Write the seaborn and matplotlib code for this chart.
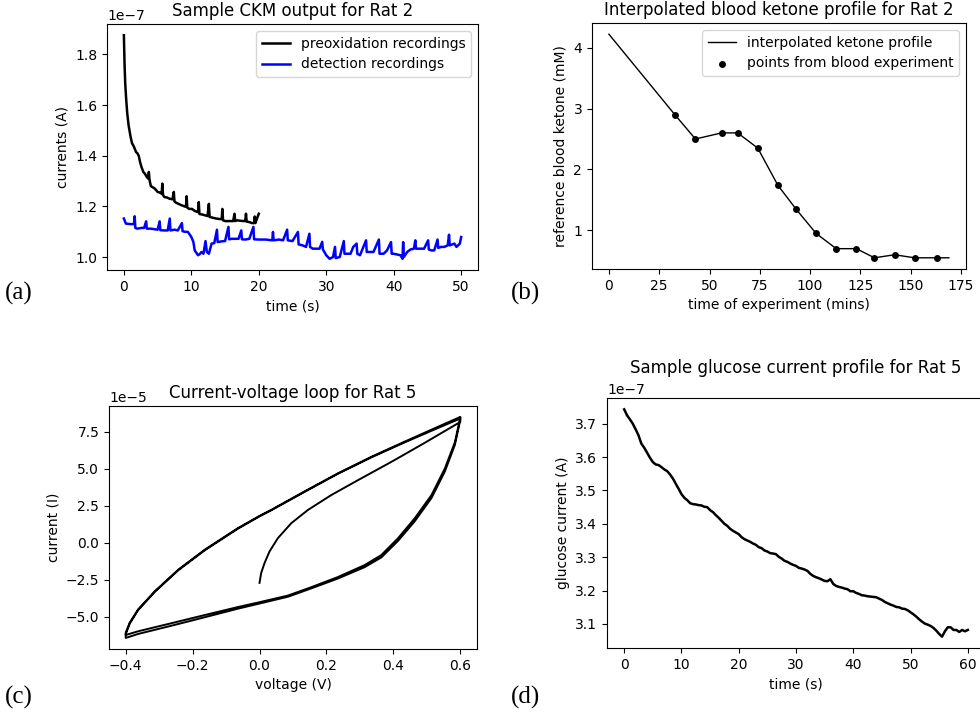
import numpy as np
import seaborn as sns
import matplotlib
matplotlib.use("Agg")
import matplotlib.pyplot as plt

# (a) CKM output, currents in units of 1e-7 A
pre_time = [0, 0.1, 0.2, 0.35, 0.5, 0.7, 1.0, 1.2, 1.5, 1.8, 2.0, 2.2, 2.4, 2.6, 2.9, 3.1, 3.4, 3.6, 3.7, 3.8,
            4.0, 4.3, 4.6, 5.0, 5.3, 5.6, 5.7, 5.8, 6.0, 6.4, 6.8, 7.2, 7.4, 7.5, 7.7, 8.1, 8.5, 9.0, 9.2, 9.3,
            9.4, 9.7, 10.1, 10.5, 10.9, 11.0, 11.1, 11.2, 11.6, 12.0, 12.4, 12.6, 12.7, 12.8, 13.2, 13.7, 14.2,
            14.5, 14.6, 14.7, 15.0, 15.4, 15.9, 16.2, 16.4, 16.5, 16.8, 17.3, 17.8, 18.0, 18.1, 18.2, 18.6, 19.0,
            19.3, 19.4, 19.5, 19.7, 20.0]
pre_current = [1.876, 1.76, 1.685, 1.62, 1.567, 1.52, 1.474, 1.45, 1.435, 1.415, 1.41, 1.40, 1.375, 1.356, 1.335,
               1.33, 1.316, 1.31, 1.336, 1.305, 1.28, 1.275, 1.27, 1.257, 1.255, 1.25, 1.29, 1.245, 1.237, 1.235,
               1.23, 1.228, 1.257, 1.22, 1.215, 1.21, 1.205, 1.2, 1.198, 1.24, 1.195, 1.19, 1.19, 1.182, 1.178,
               1.178, 1.217, 1.17, 1.168, 1.165, 1.162, 1.21, 1.158, 1.158, 1.155, 1.152, 1.15, 1.15, 1.19, 1.145,
               1.142, 1.142, 1.142, 1.142, 1.171, 1.142, 1.145, 1.143, 1.142, 1.142, 1.171, 1.14, 1.138, 1.134,
               1.134, 1.16, 1.134, 1.15, 1.171]

det_time = [0.0, 0.3, 1.0, 1.5, 1.6, 1.7, 2.0, 2.6, 3.0, 3.3, 3.4, 4.0, 4.5, 5.0, 5.3, 5.4, 6.0, 6.5, 6.8, 6.9,
            7.5, 8.0, 8.6, 8.7, 9.0, 9.5, 10.0, 10.3, 10.5, 11.0, 11.3, 11.5, 11.8, 12.1, 12.3, 12.6, 13.0, 13.4,
            13.8, 13.9, 14.5, 15.0, 15.5, 15.6, 16.0, 16.5, 17.0, 17.4, 17.5, 18.0, 18.6, 19.2, 19.3, 20.0, 21.0,
            22.0, 22.1, 22.2, 23.0, 23.6, 24.2, 24.3, 25.0, 25.8, 25.9, 26.5, 27.0, 27.5, 27.6, 28.0, 28.6, 29.0,
            29.4, 29.5, 30.0, 30.5, 31.0, 31.3, 31.4, 32.0, 32.6, 32.7, 33.0, 33.6, 34.0, 34.5, 34.6, 35.0, 35.9,
            36.0, 36.5, 37.0, 37.8, 37.9, 38.5, 39.0, 39.6, 39.7, 40.0, 40.5, 41.0, 41.3, 41.4, 41.5, 42.0, 42.5,
            43.0, 43.2, 43.3, 44.0, 44.5, 45.1, 45.2, 45.6, 46.0, 46.5, 46.6, 47.0, 47.5, 48.0, 48.2, 48.3, 49.0,
            49.3, 49.8, 50.0]
det_current = [1.152, 1.132, 1.130, 1.130, 1.161, 1.115, 1.112, 1.115, 1.115, 1.141, 1.112, 1.112, 1.110, 1.108,
               1.141, 1.106, 1.105, 1.105, 1.152, 1.105, 1.108, 1.105, 1.134, 1.102, 1.100, 1.099, 1.079, 1.060,
               1.026, 1.007, 1.013, 1.020, 1.013, 1.063, 1.020, 1.013, 1.053, 1.055, 1.108, 1.059, 1.062, 1.063,
               1.119, 1.070, 1.072, 1.072, 1.072, 1.105, 1.070, 1.069, 1.072, 1.119, 1.070, 1.069, 1.069, 1.066,
               1.099, 1.066, 1.069, 1.066, 1.108, 1.066, 1.063, 1.099, 1.050, 1.046, 1.040, 1.092, 1.040, 1.033,
               1.033, 1.033, 1.060, 1.030, 1.007, 0.993, 1.000, 1.040, 0.996, 1.000, 1.063, 1.013, 1.013, 1.013,
               1.040, 1.053, 1.013, 1.007, 1.066, 1.020, 1.020, 1.020, 1.069, 1.013, 1.013, 1.026, 1.059, 1.013,
               1.013, 1.010, 1.007, 0.993, 1.059, 1.000, 1.020, 1.030, 1.033, 1.066, 1.033, 1.033, 1.033, 1.066,
               1.030, 1.026, 1.026, 1.069, 1.036, 1.040, 1.040, 1.046, 1.088, 1.046, 1.053, 1.040, 1.053, 1.079]

# (b) blood ketone
blood_time = [33, 43, 56, 64, 74, 84, 93, 103, 113, 123, 132, 142, 152, 163]
blood_ketone = [2.89, 2.50, 2.60, 2.60, 2.35, 1.74, 1.35, 0.95, 0.70, 0.70, 0.55, 0.60, 0.55, 0.55]
interp_time = [0] + blood_time + [169]
interp_ketone = [4.22] + blood_ketone + [0.55]

# (c) current-voltage loop, currents in units of 1e-5
cv_start_v = [0.0, 0.005, 0.015, 0.03, 0.055, 0.095, 0.145, 0.215, 0.295, 0.395, 0.494, 0.6]
cv_start_i = [-2.72, -2.05, -1.38, -0.59, 0.31, 1.32, 2.22, 3.23, 4.24, 5.48, 6.76, 8.17]
cv_down_v = [0.6, 0.533, 0.433, 0.334, 0.234, 0.134, 0.035, 0.0, -0.065, -0.164, -0.243, -0.313, -0.363,
             -0.388, -0.4]
cv_down_i = [8.51, 7.84, 6.83, 5.81, 4.69, 3.46, 2.22, 1.81, 0.98, -0.48, -1.83, -3.29, -4.52, -5.42, -6.1]
cv_down2_i = [8.40, 7.76, 6.78, 5.77, 4.66, 3.43, 2.19, 1.78, 0.94, -0.52, -1.87, -3.33, -4.57, -5.48, -6.2]
cv_up_v = [-0.4, -0.363, -0.263, -0.164, -0.065, 0.0, 0.085, 0.154, 0.234, 0.314, 0.364, 0.414, 0.464,
           0.514, 0.554, 0.584, 0.6]
cv_up_i = [-6.45, -6.18, -5.62, -5.05, -4.47, -4.12, -3.66, -3.10, -2.43, -1.66, -1.00, 0.12, 1.45, 3.02,
           4.82, 6.62, 8.30]
cv_up2_i = [-6.25, -6.0, -5.45, -4.90, -4.36, -4.03, -3.58, -3.02, -2.33, -1.52, -0.84, 0.30, 1.65, 3.22,
            5.02, 6.80, 8.45]

# (d) glucose current, units of 1e-7 A
glu_time = [0.0, 0.5, 1.0, 1.5, 2.0, 2.5, 3.0, 3.5, 4.0, 4.5, 5.0, 5.5, 6.0, 6.5, 7.0, 7.5, 8.0, 8.5, 9.0, 9.5,
            10.0, 10.5, 11.0, 11.5, 12.0, 12.5, 13.0, 13.5, 14.0, 14.5, 15.0, 15.5, 16.0, 16.5, 17.0, 17.5,
            18.0, 18.5, 19.0, 19.5, 20.0, 20.5, 21.0, 21.5, 22.0, 22.5, 23.0, 23.5, 24.0, 24.5, 25.0, 25.5,
            26.0, 26.5, 27.0, 27.5, 28.0, 28.5, 29.0, 29.5, 30.0, 30.5, 31.0, 31.5, 32.0, 32.5, 33.0, 33.5,
            34.0, 34.5, 35.0, 35.5, 36.0, 36.5, 37.0, 37.5, 38.0, 38.5, 39.0, 39.5, 40.0, 40.5, 41.0, 41.5,
            42.0, 42.5, 43.0, 43.5, 44.0, 44.5, 45.0, 45.5, 46.0, 46.5, 47.0, 47.5, 48.0, 48.5, 49.0, 49.5,
            50.0, 50.5, 51.0, 51.5, 52.0, 52.5, 53.0, 53.5, 54.0, 54.5, 55.0, 55.5, 56.0, 56.5, 57.0, 57.5,
            58.0, 58.5, 59.0, 59.5, 60.0]
glu_current = [3.743, 3.725, 3.713, 3.700, 3.683, 3.665, 3.640, 3.628, 3.613, 3.598, 3.585, 3.578, 3.576,
               3.570, 3.563, 3.558, 3.548, 3.536, 3.520, 3.505, 3.489, 3.478, 3.471, 3.462, 3.459, 3.458,
               3.456, 3.455, 3.451, 3.450, 3.441, 3.435, 3.426, 3.418, 3.409, 3.400, 3.394, 3.385, 3.379,
               3.374, 3.369, 3.360, 3.354, 3.350, 3.346, 3.341, 3.337, 3.330, 3.327, 3.320, 3.317, 3.312,
               3.311, 3.309, 3.301, 3.296, 3.289, 3.286, 3.281, 3.277, 3.274, 3.268, 3.266, 3.263, 3.259,
               3.250, 3.244, 3.240, 3.237, 3.233, 3.229, 3.228, 3.234, 3.220, 3.214, 3.211, 3.209, 3.206,
               3.204, 3.198, 3.198, 3.193, 3.190, 3.186, 3.185, 3.183, 3.182, 3.181, 3.180, 3.176, 3.172,
               3.166, 3.162, 3.158, 3.155, 3.151, 3.150, 3.146, 3.145, 3.141, 3.135, 3.129, 3.122, 3.114,
               3.107, 3.101, 3.098, 3.094, 3.088, 3.080, 3.070, 3.062, 3.078, 3.090, 3.090, 3.082, 3.082,
               3.076, 3.082, 3.078, 3.082]

fig = plt.figure(figsize=(9.8, 7.15), dpi=100)
ax_a = fig.add_axes([0.1092, 0.6224, 0.3786, 0.344])
ax_b = fig.add_axes([0.604, 0.6238, 0.3816, 0.344])
ax_c = fig.add_axes([0.1112, 0.0923, 0.3755, 0.340])
ax_d = fig.add_axes([0.6194, 0.0937, 0.3857, 0.3497])

# (a)
sns.lineplot(x=pre_time, y=np.array(pre_current) * 1e-7, color="black", lw=1.8, sort=False,
             estimator=None, label="preoxidation recordings", ax=ax_a)
sns.lineplot(x=det_time, y=np.array(det_current) * 1e-7, color="blue", lw=1.8, sort=False,
             estimator=None, label="detection recordings", ax=ax_a)
ax_a.set_title("Sample CKM output for Rat 2", fontsize=12)
ax_a.set_xlabel("time (s)")
ax_a.set_ylabel("currents (A)")
ax_a.legend(loc="upper right", fontsize=10)

# (b)
sns.lineplot(x=interp_time, y=interp_ketone, color="black", lw=1, sort=False, estimator=None,
             label="interpolated ketone profile", ax=ax_b)
sns.scatterplot(x=blood_time, y=blood_ketone, color="black", s=25, linewidth=0,
                label="points from blood experiment", ax=ax_b)
ax_b.set_title("Interpolated blood ketone profile for Rat 2", fontsize=12)
ax_b.set_xlabel("time of experiment (mins)")
ax_b.set_ylabel("reference blood ketone (mM)")
ax_b.set_xticks([0, 25, 50, 75, 100, 125, 150, 175])
ax_b.legend(loc="upper right", fontsize=10)

# (c)
loop_v = cv_start_v + cv_down_v + cv_up_v + cv_down_v + cv_up_v
loop_i = cv_start_i + cv_down_i + cv_up_i + cv_down2_i + cv_up2_i
sns.lineplot(x=loop_v, y=np.array(loop_i) * 1e-5, color="black", lw=1.4, sort=False,
             estimator=None, ax=ax_c)
ax_c.set_title("Current-voltage loop for Rat 5", fontsize=12)
ax_c.set_xlabel("voltage (V)")
ax_c.set_ylabel("current (I)")

# (d)
sns.lineplot(x=glu_time, y=np.array(glu_current) * 1e-7, color="black", lw=1.8, sort=False,
             estimator=None, ax=ax_d)
ax_d.set_title("Sample glucose current profile for Rat 5", fontsize=12, pad=18)
ax_d.set_xlabel("time (s)")
ax_d.set_ylabel("glucose current (A)")

for ax in (ax_a, ax_b, ax_c, ax_d):
    ax.tick_params(labelsize=10)

for txt, x, y in [("(a)", 0.005, 0.59), ("(b)", 0.521, 0.59), ("(c)", 0.005, 0.025), ("(d)", 0.521, 0.025)]:
    fig.text(x, y, txt, family="Liberation Serif", fontsize=18, ha="left", va="center")

fig.savefig("out.png", dpi=100)
